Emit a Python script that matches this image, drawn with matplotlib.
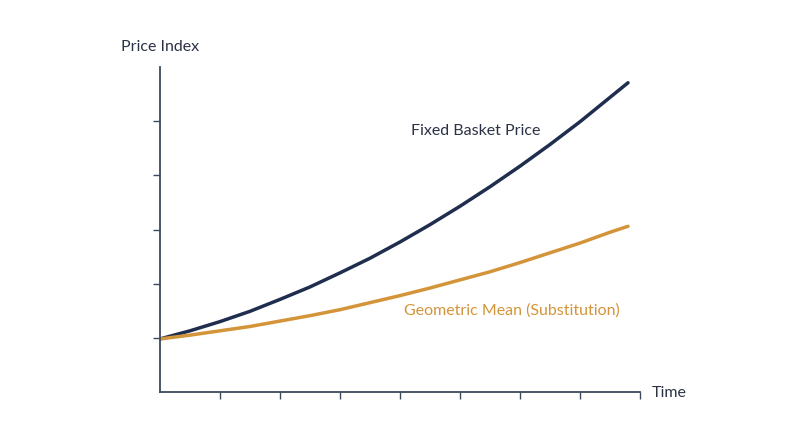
import matplotlib.pyplot as plt

plt.rcParams['font.family'] = ['Lato', 'DejaVu Sans']

# time steps and index values
t = [0, 0.5, 1, 1.5, 2, 2.5, 3, 3.5, 4, 4.5, 5, 5.5, 6, 6.5, 7, 7.5, 7.8]
fixed_basket = [0.98, 1.13, 1.30, 1.49, 1.71, 1.94, 2.20, 2.47, 2.77, 3.09,
                3.43, 3.79, 4.17, 4.57, 4.99, 5.44, 5.71]
geo_mean = [0.98, 1.05, 1.13, 1.21, 1.31, 1.41, 1.52, 1.65, 1.78, 1.92,
            2.07, 2.22, 2.39, 2.57, 2.75, 2.95, 3.06]

navy = "#1f2d4e"
gold = "#d4943a"
axis_col = "#3d4a5c"
text_col = "#2b3245"

fig = plt.figure(figsize=(8, 4.47), dpi=100)
ax = fig.add_axes([0.2, 0.123, 0.6, 0.727])

ax.plot(t, fixed_basket, color=navy, lw=2.5, solid_capstyle="round",
        solid_joinstyle="round")
ax.plot(t, geo_mean, color=gold, lw=2.5, solid_capstyle="round",
        solid_joinstyle="round")

ax.set_xlim(0, 8)
ax.set_ylim(0, 6)
ax.set_xticks(range(1, 9))
ax.set_yticks(range(1, 6))
ax.set_xticklabels([])
ax.set_yticklabels([])
ax.tick_params(colors=axis_col, length=5, width=1)

for s in ["top", "right"]:
    ax.spines[s].set_visible(False)
for s in ["left", "bottom"]:
    ax.spines[s].set_color(axis_col)
    ax.spines[s].set_linewidth(1.3)

ax.text(5.26, 4.82, "Fixed Basket Price", color=text_col, fontsize=11.5,
        ha="center", va="center")
ax.text(5.86, 1.51, "Geometric Mean (Substitution)", color=gold, fontsize=11.5,
        ha="center", va="center")

fig.text(160.5 / 800, 1 - 47 / 447, "Price Index", color=text_col, fontsize=11.5,
         ha="center", va="center")
fig.text(652 / 800, 1 - 393 / 447, "Time", color=text_col, fontsize=11.5,
         ha="left", va="center")

fig.savefig("out.png", dpi=100, facecolor="white")
